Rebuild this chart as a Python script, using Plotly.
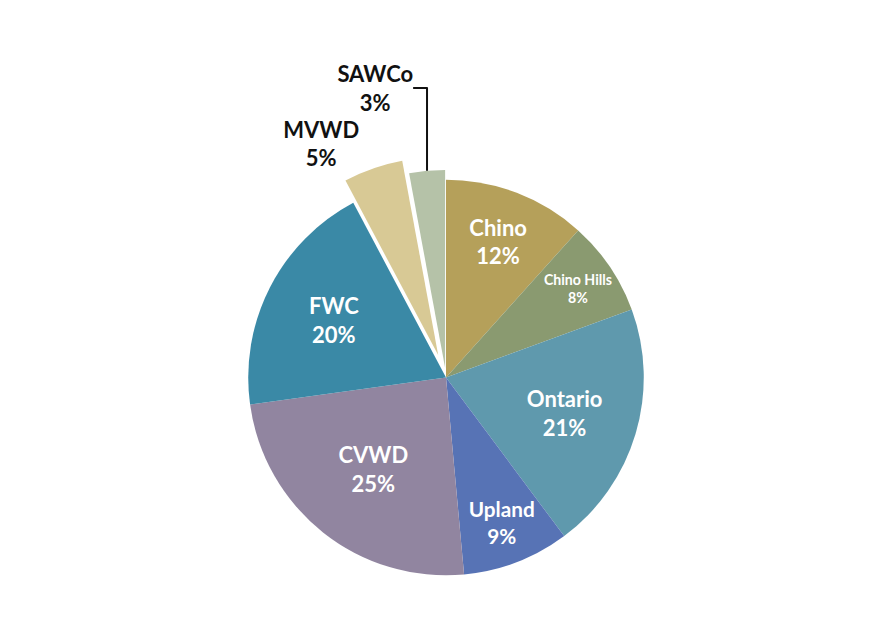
import plotly.graph_objects as go

labels = ["Chino", "Chino Hills", "Ontario", "Upland", "CVWD", "FWC", "MVWD", "SAWCo"]
shares = [12, 8, 21, 9, 25, 20, 5, 3]
colors = ["#B5A05A", "#8A9A70", "#5F99AD", "#5773B5", "#9185A0", "#3A89A6", "#D8C995", "#B5C2A8"]
pulls = [0, 0, 0, 0, 0, 0, 0.12, 0.05]
positions = ["inside", "inside", "inside", "inside", "inside", "inside", "outside", "outside"]

fig = go.Figure(go.Pie(
    labels=labels,
    values=shares,
    sort=False,
    direction="clockwise",
    rotation=0,
    pull=pulls,
    marker=dict(colors=colors, line=dict(color="#ffffff", width=0)),
    textposition=positions,
    texttemplate="<b>%{label}<br>%{value}%</b>",
    insidetextorientation="horizontal",
    insidetextfont=dict(color="white", size=22, family="Lato"),
    outsidetextfont=dict(color="#111111", size=22, family="Lato"),
    hoverinfo="label+value",
    showlegend=False,
))

fig.update_layout(
    width=876,
    height=620,
    paper_bgcolor="white",
    plot_bgcolor="white",
    margin=dict(l=10, r=10, t=8, b=4),
)

fig.write_html("out.html")
